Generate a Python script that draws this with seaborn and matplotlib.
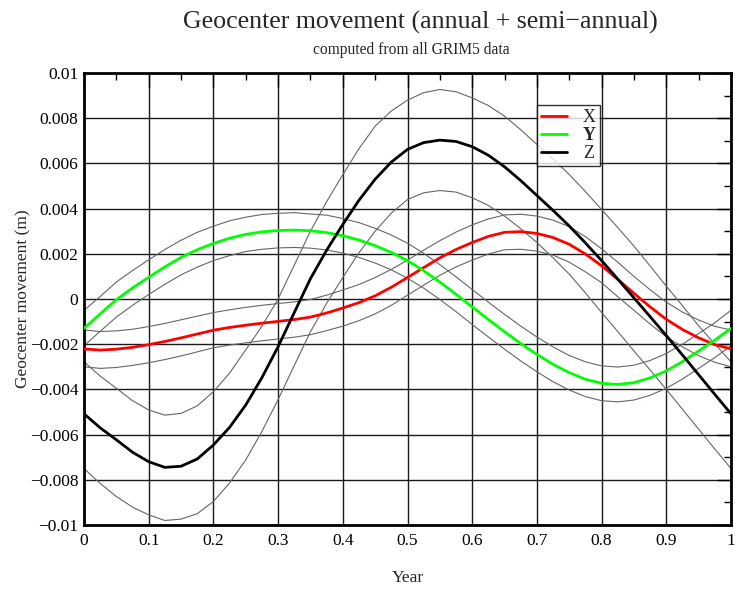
import numpy as np
import pandas as pd
import matplotlib
matplotlib.use("Agg")
import matplotlib.pyplot as plt
import seaborn as sns

sns.set_theme(style="white")
plt.rcParams["font.family"] = ["Liberation Serif", "DejaVu Serif"]

# Values: fraction of year -> geocenter offset (m)
years = [0.0, 0.025, 0.05, 0.075, 0.1, 0.125, 0.15, 0.175, 0.2, 0.225, 0.25,
         0.275, 0.3, 0.325, 0.35, 0.375, 0.4, 0.425, 0.45, 0.475, 0.5,
         0.525, 0.55, 0.575, 0.6, 0.625, 0.65, 0.675, 0.7, 0.725, 0.75,
         0.775, 0.8, 0.825, 0.85, 0.875, 0.9, 0.925, 0.95, 0.975, 1.0]

x_mid = [-0.00221, -0.00226, -0.00222, -0.00214, -0.00202, -0.00188, -0.00172,
         -0.00155, -0.00138, -0.00126, -0.00116, -0.00107, -0.00099, -0.00091,
         -0.0008, -0.00062, -0.0004, -0.00016, 0.00014, 0.00052, 0.00095,
         0.00139, 0.00182, 0.00219, 0.0025, 0.00277, 0.00295, 0.00298, 0.0029,
         0.00272, 0.00242, 0.00199, 0.00147, 0.00087, 0.00025, -0.00035,
         -0.0009, -0.00135, -0.00172, -0.00202, -0.00221]
x_hi = [-0.00137, -0.00144, -0.00141, -0.00134, -0.00122, -0.00108, -0.00092,
        -0.00076, -0.0006, -0.00048, -0.00037, -0.00028, -0.0002, -0.00013,
        -0.00002, 0.00017, 0.0004, 0.00064, 0.00095, 0.00131, 0.00172,
        0.00216, 0.00258, 0.00296, 0.00328, 0.00354, 0.00372, 0.00375, 0.00367,
        0.00349, 0.0032, 0.00276, 0.00222, 0.00163, 0.001, 0.00041,
        -0.00014, -0.00058, -0.00093, -0.00121, -0.00137]
x_lo = [-0.003, -0.00307, -0.00303, -0.00294, -0.00282, -0.00268, -0.00252,
        -0.00234, -0.00216, -0.00204, -0.00194, -0.00185, -0.00177, -0.00169,
        -0.00158, -0.0014, -0.0012, -0.00096, -0.00066, -0.00028, 0.00017,
        0.00061, 0.00105, 0.00142, 0.00172, 0.00199, 0.00218, 0.0022, 0.00212,
        0.00194, 0.00163, 0.0012, 0.00072, 0.0001, -0.0005, -0.00111,
        -0.00167, -0.00212, -0.00251, -0.0028, -0.003]

y_mid = [-0.0013, -0.00066, -0.00003, 0.00049, 0.00096, 0.00142, 0.00184,
         0.00218, 0.00246, 0.00269, 0.00286, 0.00297, 0.00303, 0.00305,
         0.00302, 0.00294, 0.0028, 0.00261, 0.00236, 0.00206, 0.0017,
         0.00125, 0.00075, 0.00021, -0.00035, -0.00091, -0.00145, -0.00197,
         -0.00245, -0.00289, -0.00326, -0.00355, -0.00373, -0.00378, -0.0037,
         -0.00349, -0.00318, -0.00277, -0.0023, -0.00182, -0.0013]
y_hi = [-0.0005, 0.00011, 0.00075, 0.00126, 0.00173, 0.00219, 0.0026,
        0.00295, 0.00322, 0.00346, 0.00362, 0.00374, 0.00379, 0.00382,
        0.00376, 0.00371, 0.00356, 0.00338, 0.00313, 0.00283, 0.00247,
        0.00202, 0.00152, 0.00098, 0.00042, -0.00014, -0.00068, -0.0012,
        -0.00168, -0.00212, -0.0025, -0.00278, -0.00296, -0.00301, -0.00293,
        -0.00272, -0.00241, -0.002, -0.00153, -0.00105, -0.0005]
y_lo = [-0.00207, -0.00143, -0.0008, -0.00028, 0.0002, 0.00065, 0.00107,
        0.00141, 0.0017, 0.00192, 0.0021, 0.0022, 0.00226, 0.00228, 0.00225,
        0.00217, 0.00203, 0.00184, 0.00159, 0.00129, 0.00092, 0.00048,
        -0.00002, -0.00056, -0.00113, -0.00168, -0.00222, -0.00274, -0.00322,
        -0.00366, -0.00403, -0.00432, -0.0045, -0.00455, -0.00447, -0.00426,
        -0.00395, -0.00354, -0.00307, -0.00259, -0.00207]

z_mid = [-0.00508, -0.0057, -0.00623, -0.00678, -0.0072, -0.00745, -0.0074,
         -0.00708, -0.00646, -0.00568, -0.00469, -0.00348, -0.00211, -0.0006,
         0.0009, 0.00216, 0.0033, 0.00437, 0.0053, 0.00606, 0.00662, 0.00692,
         0.00703, 0.00697, 0.00674, 0.00636, 0.00585, 0.00524, 0.00458,
         0.00392, 0.00323, 0.00248, 0.0017, 0.00088, 0.00005, -0.00078,
         -0.00162, -0.00248, -0.00335, -0.00422, -0.00508]
z_hi = [-0.00278, -0.00341, -0.00395, -0.0045, -0.00491, -0.00514, -0.00506,
        -0.00473, -0.0041, -0.00328, -0.00225, -0.0012, 0.0, 0.0015, 0.003,
        0.00431, 0.0055, 0.00665, 0.00765, 0.00832, 0.0088, 0.00913, 0.00927,
        0.00917, 0.0089, 0.00856, 0.00809, 0.00749, 0.00684, 0.00619, 0.00551,
        0.00475, 0.00396, 0.00316, 0.00234, 0.00146, 0.00057, -0.0003,
        -0.00119, -0.00199, -0.00278]
z_lo = [-0.0075, -0.00816, -0.00874, -0.00921, -0.00955, -0.0098, -0.00974,
        -0.0095, -0.00896, -0.00814, -0.00712, -0.00586, -0.00445, -0.00294,
        -0.00145, -0.00019, 0.00095, 0.00205, 0.003, 0.0038, 0.0044, 0.0047,
        0.0048, 0.00473, 0.00448, 0.00414, 0.00367, 0.00311, 0.0025, 0.00182,
        0.0011, 0.00027, -0.0006, -0.00144, -0.0023, -0.00314, -0.004,
        -0.00488, -0.00576, -0.00664, -0.0075]

x_ticks = [0, 0.1, 0.2, 0.3, 0.4, 0.5, 0.6, 0.7, 0.8, 0.9, 1.0]
x_labels = ["0", "0.1", "0.2", "0.3", "0.4", "0.5", "0.6", "0.7", "0.8", "0.9", "1"]
y_ticks = [-0.01, -0.008, -0.006, -0.004, -0.002, 0, 0.002, 0.004, 0.006, 0.008, 0.01]
y_labels = ["\u22120.01", "\u22120.008", "\u22120.006", "\u22120.004", "\u22120.002", "0",
            "0.002", "0.004", "0.006", "0.008", "0.01"]

fig = plt.figure(figsize=(7.35, 5.93), dpi=100)
ax = fig.add_axes([84 / 735, 68 / 593, 647 / 735, 452 / 593])

# grid
for t in x_ticks:
    ax.axvline(t, color="0.1", lw=1.0, zorder=0)
for t in y_ticks:
    ax.axhline(t, color="0.1", lw=1.0, zorder=0)

# error envelopes
for band in [x_hi, x_lo, y_hi, y_lo, z_hi, z_lo]:
    sns.lineplot(x=years, y=band, ax=ax, color="0.4", lw=0.8, zorder=2)

sns.lineplot(x=years, y=x_mid, ax=ax, color="#ff0000", lw=2, label="X", zorder=3)
sns.lineplot(x=years, y=y_mid, ax=ax, color="#00ff00", lw=2, label="Y", zorder=3)
sns.lineplot(x=years, y=z_mid, ax=ax, color="black", lw=2, label="Z", zorder=3)

ax.set_xlim(0, 1)
ax.set_ylim(-0.01, 0.01)
ax.set_xticks(x_ticks)
ax.set_xticklabels(x_labels, fontsize=12.5)
ax.set_yticks(y_ticks)
ax.set_yticklabels(y_labels, fontsize=12.5)
ax.set_xticks(np.arange(0.05, 1, 0.1), minor=True)
ax.set_yticks(np.arange(-0.009, 0.01, 0.002), minor=True)
ax.tick_params(which="both", direction="in", top=True, right=True, colors="black")
ax.tick_params(which="major", length=10, width=1)
ax.tick_params(which="minor", length=5, width=1)
ax.tick_params(axis="x", which="major", pad=6)
ax.tick_params(axis="y", which="major", pad=4)
for s in ax.spines.values():
    s.set_color("black")
    s.set_linewidth(2)

ax.set_xlabel("Year", fontsize=12.5, va="top")
ax.xaxis.set_label_coords(0.5, -0.1)
ax.set_ylabel("Geocenter movement (m)", fontsize=12.5)
ax.yaxis.set_label_coords(-0.082, 0.5)

leg = ax.legend(loc="upper left", bbox_to_anchor=(0.70, 0.93), fontsize=13,
                frameon=True, fancybox=False, handlelength=1.4, handletextpad=0.9,
                borderpad=0.25, labelspacing=0.05, borderaxespad=0)
leg.get_frame().set_edgecolor("black")
leg.get_frame().set_linewidth(1)
leg.get_texts()[1].set_fontweight("bold")

fig.text(420 / 735, 1 - 22 / 593, "Geocenter movement (annual + semi\u2212annual)",
         ha="center", va="center", fontsize=18.6)
fig.text(411 / 735, 1 - 50 / 593, "computed from all GRIM5 data",
         ha="center", va="center", fontsize=11.2)

fig.savefig("out.png", dpi=100, facecolor="white")
